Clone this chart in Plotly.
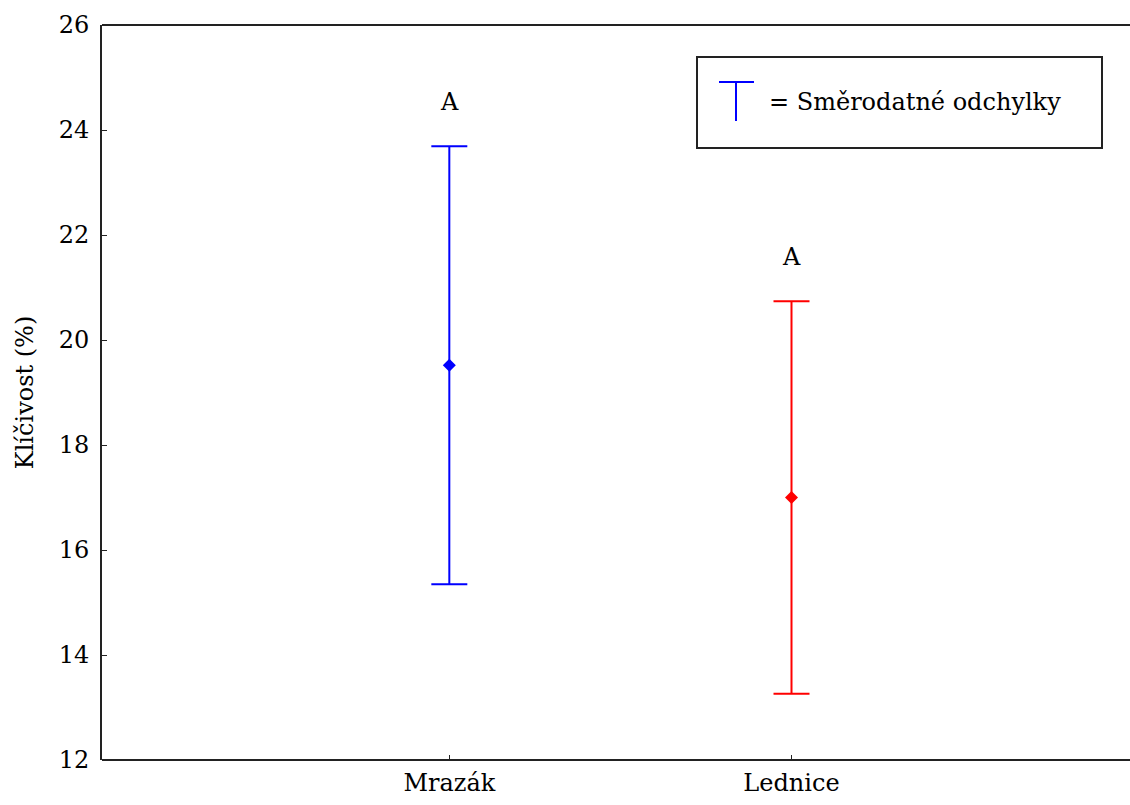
import plotly.graph_objects as go

categories = ["Mrazák", "Lednice"]
means = [19.52, 17.0]
sds = [4.17, 3.74]
colors = ["#0000ff", "#ff0000"]
letters = ["A", "A"]
y_ticks = [12, 14, 16, 18, 20, 22, 24, 26]

FONT = "DejaVu Serif"
FS = 24
xpos = list(range(len(categories)))

fig = go.Figure()
for i, cat in enumerate(categories):
    fig.add_trace(go.Scatter(
        x=[xpos[i]], y=[means[i]], mode="markers",
        marker=dict(symbol="diamond", size=10, color=colors[i]),
        error_y=dict(type="data", array=[sds[i]], visible=True,
                     color=colors[i], thickness=2, width=18),
        showlegend=False, hoverinfo="skip", cliponaxis=False))
    fig.add_annotation(x=xpos[i], y=means[i] + sds[i], text=letters[i],
                       showarrow=False, yanchor="bottom", yshift=28,
                       font=dict(family=FONT, size=FS, color="black"))

# top and bottom border lines extended to the page edge
for yy in (0, 1):
    fig.add_shape(type="line", xref="paper", yref="paper", x0=0, x1=1.01,
                  y0=yy, y1=yy, line=dict(color="#222222", width=2))

W = 1130 - 102 - 10
H = 760 - 25
# legend box
fig.add_shape(type="rect", xref="paper", yref="paper",
              x0=(697-102)/W, x1=(1102-102)/W,
              y0=1-(148-25)/H, y1=1-(57-25)/H,
              line=dict(color="#222222", width=2), fillcolor="white")
fig.add_shape(type="line", xref="paper", yref="paper",
              x0=(719-102)/W, x1=(754-102)/W,
              y0=1-(82-25)/H, y1=1-(82-25)/H,
              line=dict(color="#0000ff", width=2))
fig.add_shape(type="line", xref="paper", yref="paper",
              x0=(736-102)/W, x1=(736-102)/W,
              y0=1-(82-25)/H, y1=1-(121-25)/H,
              line=dict(color="#0000ff", width=2))
fig.add_annotation(xref="paper", yref="paper", x=(767-102)/W,
                   y=1-(102-25)/H, xanchor="left", yanchor="middle",
                   text="= Směrodatné odchylky", showarrow=False,
                   font=dict(family=FONT, size=FS, color="black"))

fig.update_layout(
    width=1130, height=805,
    margin=dict(l=102, r=10, t=25, b=45),
    paper_bgcolor="white", plot_bgcolor="white",
    font=dict(family=FONT, size=FS, color="black"),
    xaxis=dict(range=[-1.015, 1.96], tickvals=xpos, ticktext=categories,
               showgrid=False, zeroline=False, showline=False,
               ticks="inside", ticklen=5, tickcolor="#222222",
               tickfont=dict(size=FS), ticklabelstandoff=6, automargin=False),
    yaxis=dict(range=[12, 26], tickvals=y_ticks, showgrid=False,
               zeroline=False, showline=True, linecolor="#222222",
               linewidth=2, ticks="inside", ticklen=5, tickcolor="#222222",
               title=dict(text="Klíčivost (%)", font=dict(size=FS), standoff=18),
               tickfont=dict(size=FS), ticklabelstandoff=6, automargin=False),
)

fig.write_html("out.html")
